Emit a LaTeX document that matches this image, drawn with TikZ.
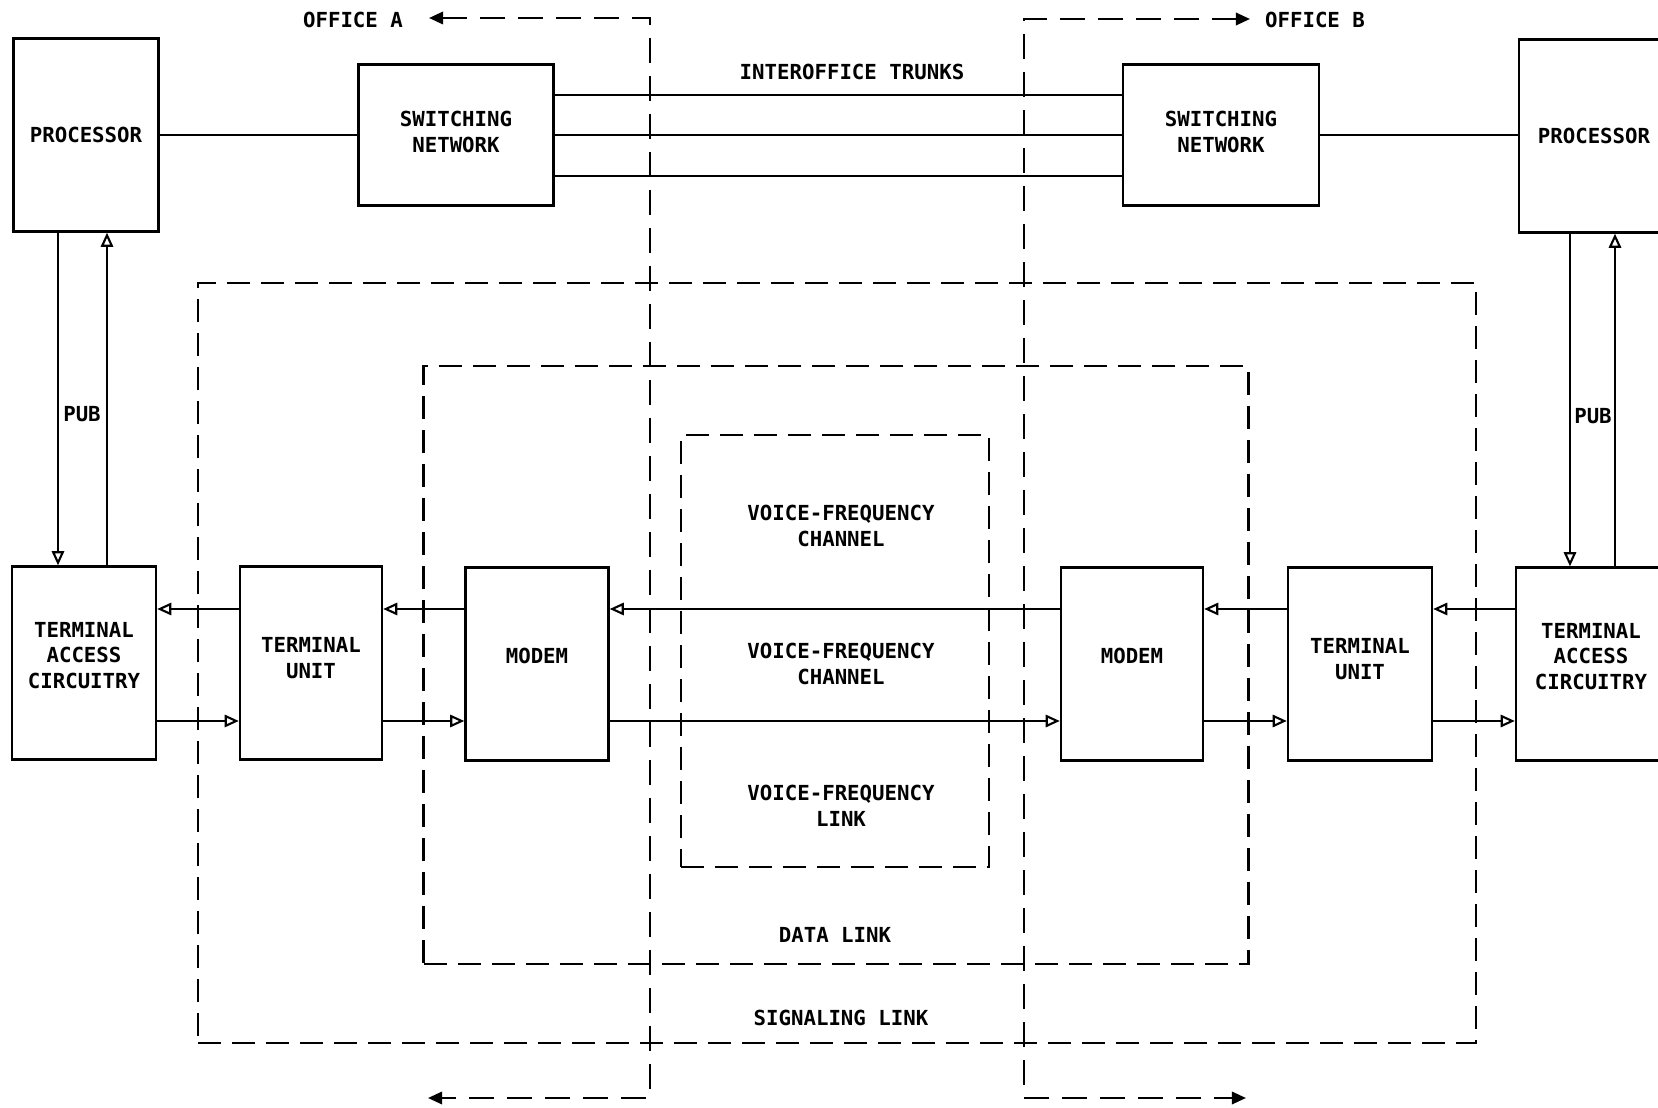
\documentclass[tikz,border=0pt]{standalone}
\usepackage{fontspec}
\setmonofont{DejaVu Sans Mono}
\usetikzlibrary{arrows.meta,positioning}

\begin{document}
\begin{tikzpicture}[x=0.02cm, y=-0.02cm, line width=1.2pt, >={Triangle[open,length=8pt,width=7pt]}, every node/.style={font=\ttfamily\bfseries\fontsize{11.8}{14.6}\selectfont}]
  % Style definitions
  \tikzstyle{unit} = [rectangle, draw=black, line width=1.4pt, align=center, minimum width=2.86cm, minimum height=3.86cm, inner sep=0pt]
  \tikzstyle{swnet} = [unit, minimum width=3.9cm, minimum height=2.82cm, text depth=3.6pt]
  \tikzstyle{linkbox} = [rectangle, draw=black, line width=1.4pt, dash pattern=on 0.46cm off 0.22cm, inner sep=0pt]
  \tikzstyle{office} = [line width=1.4pt, dash pattern=on 0.5cm off 0.26cm, {Triangle[length=8pt,width=7pt]}-{Triangle[length=8pt,width=7pt]}]
  \tikzstyle{tag} = [align=center, inner sep=1pt]

  \useasboundingbox (0,0) rectangle (1658,1108);

  % Link boundaries
  \node (siglink) [linkbox, minimum width=25.56cm, minimum height=15.2cm] at (837,663) {};
  \node (datalink) [linkbox, minimum width=16.5cm, minimum height=11.96cm] at (836,665) {};
  \node (vflink) [linkbox, minimum width=6.16cm, minimum height=8.64cm] at (835,651) {};

  % Office A
  \node (procA) [unit, minimum width=2.9cm] at (86,135) {PROCESSOR};
  \node (swA) [swnet] at (456,135) {SWITCHING\\NETWORK};
  \node (tacA) [unit, minimum width=2.88cm, text depth=8.8pt] at (84,663) {TERMINAL\\ACCESS\\CIRCUITRY};
  \node (tuA) [unit, minimum width=2.84cm, text depth=5.4pt] at (311,663) {TERMINAL\\UNIT};
  \node (modemA) [unit, text depth=9.6pt] at (537,664) {MODEM};

  % Office B
  \node (swB) [swnet, minimum width=3.92cm] at (1221,135) {SWITCHING\\NETWORK};
  \node (procB) [unit, minimum width=3cm] at (1594,136) {PROCESSOR};
  \node (modemB) [unit, minimum width=2.84cm, text depth=9.6pt] at (1132,664) {MODEM};
  \node (tuB) [unit, minimum width=2.88cm, text depth=5.4pt] at (1360,664) {TERMINAL\\UNIT};
  \node (tacB) [unit, minimum width=3cm, text depth=8.8pt] at (1591,664) {TERMINAL\\ACCESS\\CIRCUITRY};

  % Labels
  \node (trunks) [tag] at (852,72) {INTEROFFICE TRUNKS};
  \node (vfA) [tag] at (841,526) {VOICE-FREQUENCY\\CHANNEL};
  \node (vfB) [tag] at (841,664) {VOICE-FREQUENCY\\CHANNEL};
  \node (vfC) [tag] at (841,806) {VOICE-FREQUENCY\\LINK};
  \node (dlabel) [tag] at (835,935) {DATA LINK};
  \node (slabel) [tag] at (841,1018) {SIGNALING LINK};
  \node (pubA) [tag] at (82,414) {PUB};
  \node (pubB) [tag] at (1593,416) {PUB};
  \node (offA) [tag] at (353,20) {OFFICE A};
  \node (offB) [tag] at (1315,20) {OFFICE B};

  % Helper coordinates
  \coordinate (up) at (0,609);
  \coordinate (lo) at (0,721);
  \coordinate (pA1) at (58,0);
  \coordinate (pA2) at (107,0);
  \coordinate (pB1) at (1570,0);
  \coordinate (pB2) at (1615,0);
  \coordinate (offAtop) at (429,18);
  \coordinate (offAbend) at (650,1098);
  \coordinate (offAbot) at (428,1098);
  \coordinate (offBtop) at (1250,19);
  \coordinate (offBbend) at (1024,1098);
  \coordinate (offBbot) at (1246,1098);

  % Office boundaries
  \draw[office] (offAtop) -- (offAtop -| offAbend) -- (offAbend) -- (offAbot);
  \draw[office] (offBtop) -- (offBtop -| offBbend) -- (offBbend) -- (offBbot);

  % Trunks
  \draw (procA) -- (swA);
  \draw (swB.east) -- (procB.west |- swB.east);
  \draw ([yshift=0.8cm]swA.east) -- ([yshift=0.8cm]swB.west);
  \draw (swA.east) -- (swB.west);
  \draw ([yshift=-0.82cm]swA.east) -- ([yshift=-0.82cm]swB.west);

  % PUB
  \draw[->] (procA.south -| pA1) -- (tacA.north -| pA1);
  \draw[->] (tacA.north -| pA2) -- (procA.south -| pA2);
  \draw[->] (procB.south -| pB1) -- (tacB.north -| pB1);
  \draw[->] (tacB.north -| pB2) -- (procB.south -| pB2);

  % Arrows
  \draw[->] (tuA.west |- up) -- (tacA.east |- up);
  \draw[->] (modemA.west |- up) -- (tuA.east |- up);
  \draw[->] (modemB.west |- up) -- (modemA.east |- up);
  \draw[->] (tuB.west |- up) -- (modemB.east |- up);
  \draw[->] (tacB.west |- up) -- (tuB.east |- up);
  \draw[->] (tacA.east |- lo) -- (tuA.west |- lo);
  \draw[->] (tuA.east |- lo) -- (modemA.west |- lo);
  \draw[->] (modemA.east |- lo) -- (modemB.west |- lo);
  \draw[->] (modemB.east |- lo) -- (tuB.west |- lo);
  \draw[->] (tuB.east |- lo) -- (tacB.west |- lo);
\end{tikzpicture}
\end{document}
